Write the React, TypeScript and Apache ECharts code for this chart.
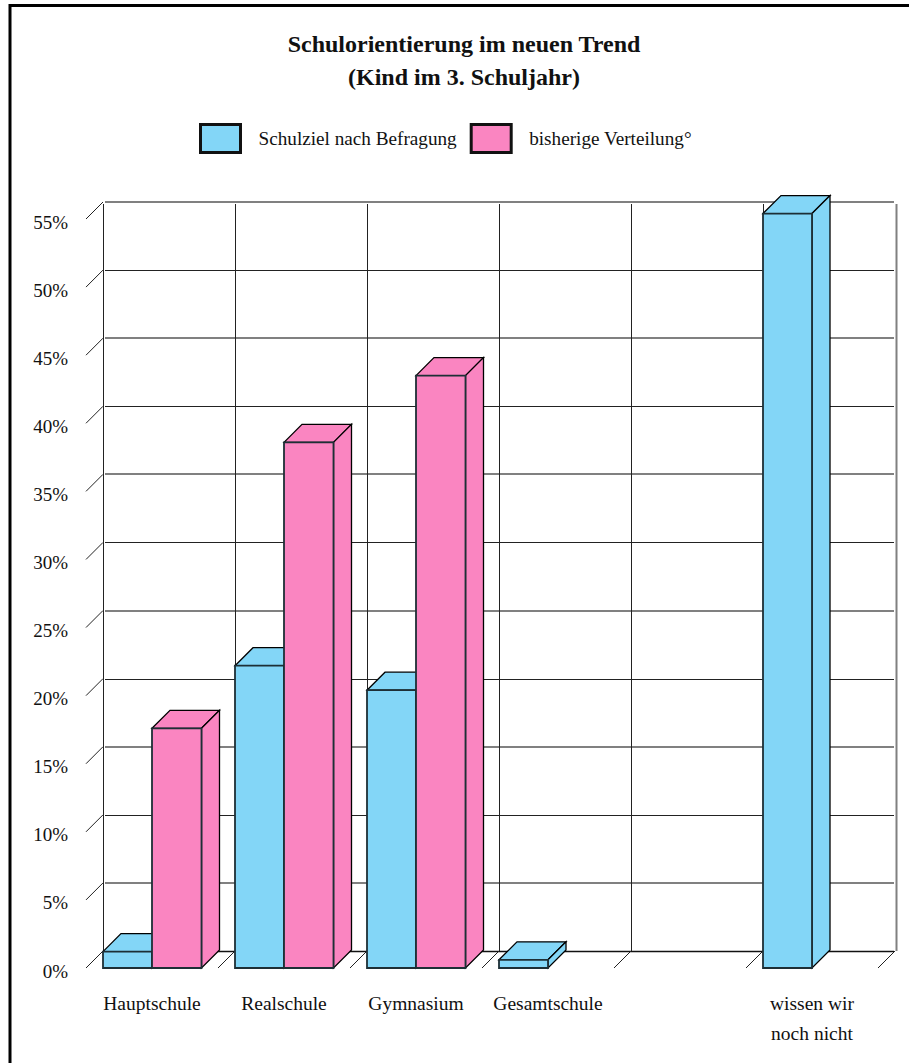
import React, { useEffect, useRef } from "react";
import * as echarts from "echarts";

// School-track survey: stated goal vs. current distribution, in percent.
const categories = ["Hauptschule", "Realschule", "Gymnasium", "Gesamtschule", "", "wissen wir\nnoch nicht"];
const schulziel: (number | null)[] = [1.2, 22.2, 20.4, 0.6, null, 55.4];
const verteilung: (number | null)[] = [17.6, 38.6, 43.5, null, null, null];
const percentTicks = [0, 5, 10, 15, 20, 25, 30, 35, 40, 45, 50, 55];

const SERIES_GOAL = "Schulziel nach Befragung";
const SERIES_CURRENT = "bisherige Verteilung°";
const BLUE = "#83D6F7";
const PINK = "#FA85C1";
const SERIF = '"Liberation Serif", serif';
const DEPTH = 17;
const BAR_DEPTH = 18;

const toRows = (values: (number | null)[]) =>
  values.flatMap((v, i) => (v === null ? [] : [[i, v]]));

// One extruded bar: front face anchored at the axis, top and side faces pushed back by BAR_DEPTH.
const barRenderer = (side: "left" | "right", fill: string) => (params: any, api: any) => {
  const cat = api.value(0);
  const [cx, yTop] = api.coord([cat, api.value(1)]);
  const [, yBase] = api.coord([cat, 0]);
  const width = (api.size([1, 0])[0] * 3) / 8;
  const x0 = side === "left" ? cx - width + 0.5 : cx;
  const x1 = side === "left" ? cx : cx + width;
  const d = BAR_DEPTH;
  const edge = { stroke: "#000", lineWidth: 1.3, fill };
  return {
    type: "group",
    children: [
      {
        type: "polygon",
        shape: { points: [[x0, yTop], [x0 + d, yTop - d], [x1 + d, yTop - d], [x1, yTop]] },
        style: edge,
      },
      {
        type: "polygon",
        shape: { points: [[x1, yTop], [x1 + d, yTop - d], [x1 + d, yBase - d], [x1, yBase]] },
        style: edge,
      },
      {
        type: "rect",
        shape: { x: x0, y: yTop, width: x1 - x0, height: yBase - yTop },
        style: { stroke: "#1d2f36", lineWidth: 1.8, fill },
      },
    ],
  };
};

// Back wall: alternating heavy grey and thin dark rules, plus the vertical category rules.
const renderWallRule = (params: any, api: any) => {
  const tick = api.value(0);
  const y = Math.round(api.coord([0, tick])[1]);
  const band = api.size([1, 0])[0];
  const left = api.coord([0, 0])[0] - band / 2;
  const right = left + band * categories.length;
  const heavy = percentTicks.indexOf(tick) % 2 === 1;
  return {
    type: "line",
    shape: { x1: left + 2, y1: y + (heavy ? 0 : 0.5), x2: right - 1, y2: y + (heavy ? 0 : 0.5) },
    style: tick === 0
      ? { stroke: "#111", lineWidth: 1.5 }
      : { stroke: heavy ? "#808080" : "#222", lineWidth: heavy ? 2 : 1 },
  };
};

const renderWallColumn = (params: any, api: any) => {
  const i = api.value(0);
  const band = api.size([1, 0])[0];
  const x = Math.round(api.coord([0, 0])[0] - band / 2 + band * i) + 0.5;
  const top = api.coord([0, 55])[1] + 2;
  const bottom = api.coord([0, 0])[1];
  const last = i === categories.length;
  return {
    type: "line",
    shape: { x1: x + (last ? 1 : 0), y1: top, x2: x + (last ? 1 : 0), y2: bottom },
    style: { stroke: last ? "#808080" : "#222", lineWidth: last ? 2 : 1 },
  };
};

// Diagonal ticks joining the front plane to the wall.
const renderValueTick = (params: any, api: any) => {
  const band = api.size([1, 0])[0];
  const x = api.coord([0, 0])[0] - band / 2;
  const y = api.coord([0, api.value(0)])[1];
  return {
    type: "line",
    shape: { x1: x, y1: y, x2: x + DEPTH, y2: y - DEPTH },
    style: { stroke: "#222", lineWidth: 1 },
  };
};

const renderFloorTick = (params: any, api: any) => {
  const band = api.size([1, 0])[0];
  const x = api.coord([0, 0])[0] - band / 2 + band * api.value(0);
  const y = api.coord([0, 0])[1];
  return {
    type: "line",
    shape: { x1: x, y1: y, x2: x + DEPTH, y2: y - DEPTH },
    style: { stroke: "#222", lineWidth: 1 },
  };
};

const boundaries = categories.map((_, i) => [i + 1]);

export default function App() {
  const ref = useRef<HTMLDivElement>(null);

  useEffect(() => {
    const chart = echarts.init(ref.current!, null, { renderer: "svg" });
    const hiddenAxis = { show: false };
    chart.setOption({
      animation: false,
      backgroundColor: "#fff",
      title: {
        text: "Schulorientierung im neuen Trend\n(Kind im 3. Schuljahr)",
        left: 459,
        top: 22,
        textAlign: "center",
        textStyle: { fontFamily: SERIF, fontWeight: "bold", fontSize: 24, lineHeight: 33, color: "#111" },
      },
      legend: {
        left: 194,
        top: 118,
        itemWidth: 40,
        itemHeight: 28,
        itemGap: 13,
        icon: "rect",
        data: [
          { name: SERIES_GOAL, itemStyle: { color: BLUE, borderColor: "#111", borderWidth: 3 } },
          { name: SERIES_CURRENT, itemStyle: { color: PINK, borderColor: "#111", borderWidth: 3 } },
        ],
        textStyle: { fontFamily: SERIF, fontSize: 19.2, color: "#111", padding: [0, 0, 0, 13] },
      },
      grid: [
        { left: 86, top: 219, width: 792, height: 749 },
        { left: 103, top: 202, width: 792, height: 749 },
      ],
      xAxis: [
        {
          type: "category",
          gridIndex: 0,
          data: categories,
          axisLine: { show: false },
          axisTick: { show: false },
          axisLabel: {
            interval: 0,
            margin: 20,
            fontFamily: SERIF,
            fontSize: 19.5,
            lineHeight: 30,
            color: "#111",
          },
        },
        { type: "category", gridIndex: 1, data: categories, ...hiddenAxis },
      ],
      yAxis: [
        {
          type: "value",
          gridIndex: 0,
          min: 0,
          max: 55,
          interval: 5,
          axisLine: { show: false },
          axisTick: { show: false },
          splitLine: { show: false },
          axisLabel: {
            formatter: "{pct|{value}%}",
            margin: 18,
            rich: {
              pct: {
                fontFamily: SERIF,
                fontSize: 19,
                color: "#111",
                padding: [6, 0, 0, 0],
              },
            },
          },
        },
        { type: "value", gridIndex: 1, min: 0, max: 55, interval: 5, ...hiddenAxis },
      ],
      series: [
        {
          type: "custom",
          name: "wall-rules",
          xAxisIndex: 1,
          yAxisIndex: 1,
          z: 1,
          silent: true,
          renderItem: renderWallRule,
          data: percentTicks.map((t) => [t]),
          encode: { y: 0 },
        },
        {
          type: "custom",
          name: "wall-columns",
          xAxisIndex: 1,
          yAxisIndex: 1,
          z: 1,
          silent: true,
          renderItem: renderWallColumn,
          data: [[0], ...boundaries],
          encode: { x: 0 },
        },
        {
          type: "custom",
          name: "value-ticks",
          z: 1,
          silent: true,
          renderItem: renderValueTick,
          data: percentTicks.map((t) => [t]),
          encode: { y: 0 },
        },
        {
          type: "custom",
          name: "floor-ticks",
          z: 1,
          silent: true,
          renderItem: renderFloorTick,
          data: [[0], ...boundaries],
          encode: { x: 0 },
        },
        {
          type: "custom",
          name: SERIES_GOAL,
          z: 2,
          itemStyle: { color: BLUE },
          renderItem: barRenderer("left", BLUE),
          data: toRows(schulziel),
          encode: { x: 0, y: 1 },
        },
        {
          type: "custom",
          name: SERIES_CURRENT,
          z: 3,
          itemStyle: { color: PINK },
          renderItem: barRenderer("right", PINK),
          data: toRows(verteilung),
          encode: { x: 0, y: 1 },
        },
      ],
      graphic: [
        {
          type: "polyline",
          silent: true,
          shape: { points: [[10, 1063], [10, 5.5], [909, 5.5]] },
          style: { stroke: "#000", lineWidth: 3, fill: "none" },
        },
      ],
    });
    return () => chart.dispose();
  }, []);

  return <div ref={ref} style={{ position: "absolute", left: 0, top: 0, width: 909, height: 1063 }} />;
}
